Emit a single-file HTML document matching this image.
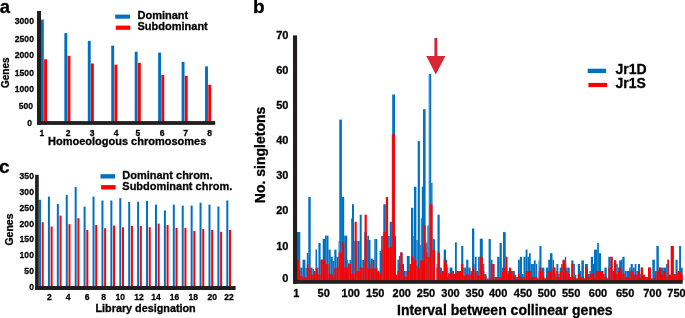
<!DOCTYPE html>
<html><head><meta charset="utf-8"><style>
html,body{margin:0;padding:0;background:#fff;}
svg{display:block;will-change:transform;}
text{font-family:"Liberation Sans",sans-serif;font-weight:bold;fill:#000;stroke:#000;stroke-width:0.3px;}
</style></head><body>
<svg width="685" height="318" viewBox="0 0 685 318" shape-rendering="auto">
<text x="-0.2" y="12.5" font-size="18.5" text-anchor="start" >a</text>
<rect x="40.90" y="19.60" width="2.90" height="103.40" fill="#0070c0"/>
<rect x="44.10" y="59.30" width="2.90" height="63.70" fill="#ff0000"/>
<rect x="64.35" y="33.10" width="2.90" height="89.90" fill="#0070c0"/>
<rect x="67.55" y="55.80" width="2.90" height="67.20" fill="#ff0000"/>
<rect x="87.80" y="40.90" width="2.90" height="82.10" fill="#0070c0"/>
<rect x="91.00" y="63.50" width="2.90" height="59.50" fill="#ff0000"/>
<rect x="111.25" y="45.60" width="2.90" height="77.40" fill="#0070c0"/>
<rect x="114.45" y="64.70" width="2.90" height="58.30" fill="#ff0000"/>
<rect x="134.70" y="51.70" width="2.90" height="71.30" fill="#0070c0"/>
<rect x="137.90" y="62.80" width="2.90" height="60.20" fill="#ff0000"/>
<rect x="158.15" y="52.60" width="2.90" height="70.40" fill="#0070c0"/>
<rect x="161.35" y="74.90" width="2.90" height="48.10" fill="#ff0000"/>
<rect x="181.60" y="61.90" width="2.90" height="61.10" fill="#0070c0"/>
<rect x="184.80" y="75.80" width="2.90" height="47.20" fill="#ff0000"/>
<rect x="205.05" y="66.40" width="2.90" height="56.60" fill="#0070c0"/>
<rect x="208.25" y="84.70" width="2.90" height="38.30" fill="#ff0000"/>
<rect x="37.00" y="11.00" width="4.00" height="113.80" fill="#231f20"/>
<rect x="37.00" y="121.10" width="178.20" height="3.80" fill="#231f20"/>
<text transform="translate(33.9 24.4) scale(0.875 1)" font-size="9.8" text-anchor="end">3000</text>
<text transform="translate(33.9 41.6) scale(0.875 1)" font-size="9.8" text-anchor="end">2500</text>
<text transform="translate(33.9 57.8) scale(0.875 1)" font-size="9.8" text-anchor="end">2000</text>
<text transform="translate(33.9 75.5) scale(0.875 1)" font-size="9.8" text-anchor="end">1500</text>
<text transform="translate(33.9 91.9) scale(0.875 1)" font-size="9.8" text-anchor="end">1000</text>
<text transform="translate(33.0 109.0) scale(0.875 1)" font-size="9.8" text-anchor="end">500</text>
<text transform="translate(32.0 125.8) scale(0.875 1)" font-size="9.8" text-anchor="end">0</text>
<text transform="translate(41.9 136.3) scale(0.9 1)" font-size="9.5" text-anchor="middle">1</text>
<text transform="translate(68.2 136.3) scale(0.9 1)" font-size="9.5" text-anchor="middle">2</text>
<text transform="translate(92.1 136.3) scale(0.9 1)" font-size="9.5" text-anchor="middle">3</text>
<text transform="translate(116.2 136.3) scale(0.9 1)" font-size="9.5" text-anchor="middle">4</text>
<text transform="translate(137.8 136.3) scale(0.9 1)" font-size="9.5" text-anchor="middle">5</text>
<text transform="translate(162.1 136.3) scale(0.9 1)" font-size="9.5" text-anchor="middle">6</text>
<text transform="translate(185.5 136.3) scale(0.9 1)" font-size="9.5" text-anchor="middle">7</text>
<text transform="translate(209.6 136.3) scale(0.9 1)" font-size="9.5" text-anchor="middle">8</text>
<text x="48" y="145" font-size="11" text-anchor="start" >Homoeologous chromosomes</text>
<text x="9.0" y="72.7" font-size="10" text-anchor="middle" transform="rotate(-90 9.0 72.7)">Genes</text>
<rect x="115.20" y="14.60" width="14.80" height="4.10" fill="#0070c0"/>
<rect x="115.80" y="25.60" width="14.50" height="4.20" fill="#ff0000"/>
<text x="137.5" y="19" font-size="11" text-anchor="start" >Dominant</text>
<text x="137.5" y="29.7" font-size="11" text-anchor="start" >Subdominant</text>
<text x="-1" y="172.8" font-size="19" text-anchor="start" >c</text>
<rect x="38.75" y="199.80" width="2.25" height="87.20" fill="#0070c0"/>
<rect x="41.70" y="222.20" width="2.00" height="64.80" fill="#ff0000"/>
<rect x="47.92" y="196.60" width="2.00" height="90.40" fill="#0070c0"/>
<rect x="50.62" y="226.50" width="2.00" height="60.50" fill="#ff0000"/>
<rect x="56.84" y="203.90" width="2.00" height="83.10" fill="#0070c0"/>
<rect x="59.54" y="215.60" width="2.00" height="71.40" fill="#ff0000"/>
<rect x="65.76" y="194.90" width="2.00" height="92.10" fill="#0070c0"/>
<rect x="68.46" y="224.10" width="2.00" height="62.90" fill="#ff0000"/>
<rect x="74.68" y="186.90" width="2.00" height="100.10" fill="#0070c0"/>
<rect x="77.38" y="218.20" width="2.00" height="68.80" fill="#ff0000"/>
<rect x="83.60" y="206.60" width="2.00" height="80.40" fill="#0070c0"/>
<rect x="86.30" y="229.90" width="2.00" height="57.10" fill="#ff0000"/>
<rect x="92.52" y="196.60" width="2.00" height="90.40" fill="#0070c0"/>
<rect x="95.22" y="225.00" width="2.00" height="62.00" fill="#ff0000"/>
<rect x="101.44" y="200.50" width="2.00" height="86.50" fill="#0070c0"/>
<rect x="104.14" y="228.20" width="2.00" height="58.80" fill="#ff0000"/>
<rect x="110.36" y="200.50" width="2.00" height="86.50" fill="#0070c0"/>
<rect x="113.06" y="225.60" width="2.00" height="61.40" fill="#ff0000"/>
<rect x="119.28" y="198.10" width="2.00" height="88.90" fill="#0070c0"/>
<rect x="121.98" y="227.30" width="2.00" height="59.70" fill="#ff0000"/>
<rect x="128.20" y="201.90" width="2.00" height="85.10" fill="#0070c0"/>
<rect x="130.90" y="225.80" width="2.00" height="61.20" fill="#ff0000"/>
<rect x="137.12" y="201.70" width="2.00" height="85.30" fill="#0070c0"/>
<rect x="139.82" y="225.80" width="2.00" height="61.20" fill="#ff0000"/>
<rect x="146.04" y="200.90" width="2.00" height="86.10" fill="#0070c0"/>
<rect x="148.74" y="227.20" width="2.00" height="59.80" fill="#ff0000"/>
<rect x="154.96" y="204.60" width="2.00" height="82.40" fill="#0070c0"/>
<rect x="157.66" y="223.60" width="2.00" height="63.40" fill="#ff0000"/>
<rect x="163.88" y="210.50" width="2.00" height="76.50" fill="#0070c0"/>
<rect x="166.58" y="225.00" width="2.00" height="62.00" fill="#ff0000"/>
<rect x="172.80" y="204.60" width="2.00" height="82.40" fill="#0070c0"/>
<rect x="175.50" y="227.90" width="2.00" height="59.10" fill="#ff0000"/>
<rect x="181.72" y="205.60" width="2.00" height="81.40" fill="#0070c0"/>
<rect x="184.42" y="227.90" width="2.00" height="59.10" fill="#ff0000"/>
<rect x="190.64" y="205.60" width="2.00" height="81.40" fill="#0070c0"/>
<rect x="193.34" y="230.90" width="2.00" height="56.10" fill="#ff0000"/>
<rect x="199.56" y="202.70" width="2.00" height="84.30" fill="#0070c0"/>
<rect x="202.26" y="229.10" width="2.00" height="57.90" fill="#ff0000"/>
<rect x="208.48" y="204.60" width="2.00" height="82.40" fill="#0070c0"/>
<rect x="211.18" y="229.90" width="2.00" height="57.10" fill="#ff0000"/>
<rect x="217.40" y="206.50" width="2.00" height="80.50" fill="#0070c0"/>
<rect x="220.10" y="231.80" width="2.00" height="55.20" fill="#ff0000"/>
<rect x="226.32" y="200.50" width="2.00" height="86.50" fill="#0070c0"/>
<rect x="229.02" y="229.90" width="2.00" height="57.10" fill="#ff0000"/>
<rect x="35.10" y="174.80" width="3.65" height="114.90" fill="#231f20"/>
<rect x="35.10" y="286.00" width="200.50" height="4.00" fill="#231f20"/>
<text transform="translate(33.9 179.3) scale(0.875 1)" font-size="9.8" text-anchor="end">350</text>
<text transform="translate(33.9 195.09) scale(0.875 1)" font-size="9.8" text-anchor="end">300</text>
<text transform="translate(33.9 210.88) scale(0.875 1)" font-size="9.8" text-anchor="end">250</text>
<text transform="translate(33.9 226.67000000000002) scale(0.875 1)" font-size="9.8" text-anchor="end">200</text>
<text transform="translate(33.9 242.46) scale(0.875 1)" font-size="9.8" text-anchor="end">150</text>
<text transform="translate(33.9 258.25) scale(0.875 1)" font-size="9.8" text-anchor="end">100</text>
<text transform="translate(33.9 274.04) scale(0.875 1)" font-size="9.8" text-anchor="end">50</text>
<text transform="translate(33.9 289.83000000000004) scale(0.875 1)" font-size="9.8" text-anchor="end">0</text>
<text transform="translate(49.3 300.0) scale(0.9 1)" font-size="9.5" text-anchor="middle">2</text>
<text transform="translate(68.15 300.0) scale(0.9 1)" font-size="9.5" text-anchor="middle">4</text>
<text transform="translate(87.2 300.0) scale(0.9 1)" font-size="9.5" text-anchor="middle">6</text>
<text transform="translate(103.6 300.0) scale(0.9 1)" font-size="9.5" text-anchor="middle">8</text>
<text transform="translate(120.25 300.0) scale(0.9 1)" font-size="9.5" text-anchor="middle">10</text>
<text transform="translate(139.0 300.0) scale(0.9 1)" font-size="9.5" text-anchor="middle">12</text>
<text transform="translate(155.9 300.0) scale(0.9 1)" font-size="9.5" text-anchor="middle">14</text>
<text transform="translate(174.4 300.0) scale(0.9 1)" font-size="9.5" text-anchor="middle">16</text>
<text transform="translate(193.15 300.0) scale(0.9 1)" font-size="9.5" text-anchor="middle">18</text>
<text transform="translate(212.3 300.0) scale(0.9 1)" font-size="9.5" text-anchor="middle">20</text>
<text transform="translate(229.0 300.0) scale(0.9 1)" font-size="9.5" text-anchor="middle">22</text>
<text x="95.5" y="311.7" font-size="10.8" text-anchor="start" >Library designation</text>
<text x="13.3" y="229.5" font-size="10.5" text-anchor="middle" transform="rotate(-90 13.3 229.5)">Genes</text>
<rect x="100.50" y="174.20" width="14.50" height="4.30" fill="#0070c0"/>
<rect x="101.10" y="185.10" width="14.50" height="4.40" fill="#ff0000"/>
<text transform="translate(122.3 178.8) scale(0.948 1)" font-size="11.6" text-anchor="start">Dominant chrom.</text>
<text transform="translate(122.3 189.8) scale(0.948 1)" font-size="11.6" text-anchor="start">Subdominant chrom.</text>
<text x="253.1" y="13.2" font-size="19" text-anchor="start" >b</text>
<rect x="297.00" y="232.00" width="2.00" height="49.00" fill="#0070c0"/>
<rect x="299.00" y="232.00" width="1.30" height="49.00" fill="#0070c0"/>
<rect x="300.30" y="267.60" width="2.20" height="13.40" fill="#0070c0"/>
<rect x="302.50" y="259.70" width="1.50" height="21.30" fill="#0070c0"/>
<rect x="304.00" y="259.70" width="1.40" height="21.30" fill="#0070c0"/>
<rect x="305.40" y="268.00" width="1.40" height="13.00" fill="#0070c0"/>
<rect x="306.80" y="253.00" width="1.50" height="28.00" fill="#0070c0"/>
<rect x="308.30" y="197.00" width="2.40" height="84.00" fill="#0070c0"/>
<rect x="310.70" y="267.60" width="1.90" height="13.40" fill="#0070c0"/>
<rect x="312.60" y="269.00" width="1.40" height="12.00" fill="#0070c0"/>
<rect x="314.00" y="271.00" width="1.50" height="10.00" fill="#0070c0"/>
<rect x="315.50" y="249.60" width="1.50" height="31.40" fill="#0070c0"/>
<rect x="317.00" y="267.60" width="1.40" height="13.40" fill="#0070c0"/>
<rect x="318.40" y="243.00" width="2.20" height="38.00" fill="#0070c0"/>
<rect x="320.60" y="259.70" width="2.10" height="21.30" fill="#0070c0"/>
<rect x="322.70" y="239.00" width="2.30" height="42.00" fill="#0070c0"/>
<rect x="325.00" y="235.60" width="1.30" height="45.40" fill="#0070c0"/>
<rect x="326.30" y="235.60" width="2.20" height="45.40" fill="#0070c0"/>
<rect x="328.50" y="249.60" width="2.20" height="31.40" fill="#0070c0"/>
<rect x="330.70" y="256.80" width="2.10" height="24.20" fill="#0070c0"/>
<rect x="332.80" y="261.00" width="1.50" height="20.00" fill="#0070c0"/>
<rect x="334.30" y="249.60" width="2.20" height="31.40" fill="#0070c0"/>
<rect x="336.50" y="256.80" width="2.10" height="24.20" fill="#0070c0"/>
<rect x="338.60" y="241.00" width="0.70" height="40.00" fill="#0070c0"/>
<rect x="339.30" y="119.60" width="2.60" height="161.40" fill="#0070c0"/>
<rect x="341.90" y="197.00" width="2.30" height="84.00" fill="#0070c0"/>
<rect x="344.20" y="235.60" width="1.80" height="45.40" fill="#0070c0"/>
<rect x="346.00" y="235.60" width="1.20" height="45.40" fill="#0070c0"/>
<rect x="347.20" y="259.70" width="1.00" height="21.30" fill="#0070c0"/>
<rect x="348.20" y="263.30" width="1.40" height="17.70" fill="#0070c0"/>
<rect x="349.60" y="260.00" width="1.60" height="21.00" fill="#0070c0"/>
<rect x="351.20" y="218.30" width="0.80" height="62.70" fill="#0070c0"/>
<rect x="352.00" y="204.20" width="2.00" height="76.80" fill="#0070c0"/>
<rect x="354.00" y="241.00" width="0.60" height="40.00" fill="#0070c0"/>
<rect x="354.60" y="241.00" width="2.10" height="40.00" fill="#0070c0"/>
<rect x="356.70" y="241.00" width="0.90" height="40.00" fill="#0070c0"/>
<rect x="357.60" y="241.00" width="2.10" height="40.00" fill="#0070c0"/>
<rect x="359.70" y="214.70" width="2.00" height="66.30" fill="#0070c0"/>
<rect x="361.70" y="260.00" width="0.90" height="21.00" fill="#0070c0"/>
<rect x="362.60" y="260.00" width="1.40" height="21.00" fill="#0070c0"/>
<rect x="364.00" y="232.00" width="0.60" height="49.00" fill="#0070c0"/>
<rect x="364.60" y="232.00" width="2.20" height="49.00" fill="#0070c0"/>
<rect x="366.80" y="236.00" width="0.70" height="45.00" fill="#0070c0"/>
<rect x="367.50" y="235.60" width="1.50" height="45.40" fill="#0070c0"/>
<rect x="369.00" y="240.00" width="1.50" height="41.00" fill="#0070c0"/>
<rect x="370.50" y="258.60" width="2.30" height="22.40" fill="#0070c0"/>
<rect x="372.80" y="260.00" width="1.50" height="21.00" fill="#0070c0"/>
<rect x="374.30" y="239.00" width="1.50" height="42.00" fill="#0070c0"/>
<rect x="375.80" y="239.00" width="1.50" height="42.00" fill="#0070c0"/>
<rect x="377.30" y="270.70" width="2.30" height="10.30" fill="#0070c0"/>
<rect x="379.60" y="251.00" width="1.50" height="30.00" fill="#0070c0"/>
<rect x="381.10" y="236.00" width="1.50" height="45.00" fill="#0070c0"/>
<rect x="382.60" y="236.00" width="0.70" height="45.00" fill="#0070c0"/>
<rect x="383.30" y="204.20" width="2.50" height="76.80" fill="#0070c0"/>
<rect x="385.80" y="235.60" width="2.30" height="45.40" fill="#0070c0"/>
<rect x="388.10" y="236.00" width="1.60" height="45.00" fill="#0070c0"/>
<rect x="389.70" y="221.80" width="2.20" height="59.20" fill="#0070c0"/>
<rect x="391.90" y="134.20" width="0.30" height="146.80" fill="#0070c0"/>
<rect x="392.20" y="94.50" width="2.80" height="186.50" fill="#0070c0"/>
<rect x="395.00" y="235.60" width="1.00" height="45.40" fill="#0070c0"/>
<rect x="396.00" y="274.80" width="1.40" height="6.20" fill="#0070c0"/>
<rect x="397.40" y="259.70" width="1.50" height="21.30" fill="#0070c0"/>
<rect x="398.90" y="256.00" width="1.40" height="25.00" fill="#0070c0"/>
<rect x="400.30" y="252.50" width="2.20" height="28.50" fill="#0070c0"/>
<rect x="402.50" y="264.00" width="1.50" height="17.00" fill="#0070c0"/>
<rect x="404.00" y="271.00" width="1.40" height="10.00" fill="#0070c0"/>
<rect x="405.40" y="271.00" width="1.40" height="10.00" fill="#0070c0"/>
<rect x="406.80" y="256.00" width="2.90" height="25.00" fill="#0070c0"/>
<rect x="409.70" y="264.00" width="1.30" height="17.00" fill="#0070c0"/>
<rect x="411.00" y="207.80" width="2.30" height="73.20" fill="#0070c0"/>
<rect x="413.30" y="236.00" width="0.70" height="45.00" fill="#0070c0"/>
<rect x="414.00" y="186.70" width="2.40" height="94.30" fill="#0070c0"/>
<rect x="416.40" y="240.00" width="1.30" height="41.00" fill="#0070c0"/>
<rect x="417.70" y="141.10" width="2.20" height="139.90" fill="#0070c0"/>
<rect x="419.90" y="245.00" width="0.90" height="36.00" fill="#0070c0"/>
<rect x="420.80" y="218.30" width="1.00" height="62.70" fill="#0070c0"/>
<rect x="421.80" y="186.70" width="1.20" height="94.30" fill="#0070c0"/>
<rect x="423.00" y="109.20" width="1.00" height="171.80" fill="#0070c0"/>
<rect x="424.00" y="109.20" width="1.60" height="171.80" fill="#0070c0"/>
<rect x="425.60" y="244.00" width="0.70" height="37.00" fill="#0070c0"/>
<rect x="426.30" y="242.30" width="1.10" height="38.70" fill="#0070c0"/>
<rect x="427.40" y="225.40" width="1.30" height="55.60" fill="#0070c0"/>
<rect x="428.70" y="74.00" width="0.90" height="207.00" fill="#0070c0"/>
<rect x="429.60" y="74.00" width="1.60" height="207.00" fill="#0070c0"/>
<rect x="431.20" y="182.90" width="1.30" height="98.10" fill="#0070c0"/>
<rect x="432.50" y="239.00" width="1.40" height="42.00" fill="#0070c0"/>
<rect x="433.90" y="239.40" width="1.10" height="41.60" fill="#0070c0"/>
<rect x="435.00" y="280.00" width="1.50" height="1.00" fill="#0070c0"/>
<rect x="436.50" y="264.00" width="1.00" height="17.00" fill="#0070c0"/>
<rect x="437.50" y="214.70" width="2.20" height="66.30" fill="#0070c0"/>
<rect x="439.70" y="252.50" width="0.30" height="28.50" fill="#0070c0"/>
<rect x="440.00" y="267.60" width="2.00" height="13.40" fill="#0070c0"/>
<rect x="442.00" y="271.00" width="1.70" height="10.00" fill="#0070c0"/>
<rect x="443.70" y="249.60" width="2.30" height="31.40" fill="#0070c0"/>
<rect x="446.00" y="259.70" width="1.20" height="21.30" fill="#0070c0"/>
<rect x="447.20" y="267.60" width="1.00" height="13.40" fill="#0070c0"/>
<rect x="448.20" y="272.70" width="1.40" height="8.30" fill="#0070c0"/>
<rect x="449.60" y="267.60" width="1.40" height="13.40" fill="#0070c0"/>
<rect x="451.00" y="267.60" width="1.50" height="13.40" fill="#0070c0"/>
<rect x="452.50" y="271.00" width="1.50" height="10.00" fill="#0070c0"/>
<rect x="454.00" y="274.00" width="1.00" height="7.00" fill="#0070c0"/>
<rect x="455.00" y="242.30" width="1.80" height="38.70" fill="#0070c0"/>
<rect x="456.80" y="271.00" width="2.20" height="10.00" fill="#0070c0"/>
<rect x="459.00" y="271.00" width="2.20" height="10.00" fill="#0070c0"/>
<rect x="461.20" y="246.00" width="2.10" height="35.00" fill="#0070c0"/>
<rect x="463.30" y="267.60" width="1.50" height="13.40" fill="#0070c0"/>
<rect x="464.80" y="267.60" width="1.40" height="13.40" fill="#0070c0"/>
<rect x="466.20" y="259.70" width="2.20" height="21.30" fill="#0070c0"/>
<rect x="468.40" y="267.60" width="2.20" height="13.40" fill="#0070c0"/>
<rect x="470.60" y="271.00" width="1.40" height="10.00" fill="#0070c0"/>
<rect x="472.00" y="228.50" width="2.30" height="52.50" fill="#0070c0"/>
<rect x="474.30" y="264.00" width="0.60" height="17.00" fill="#0070c0"/>
<rect x="474.90" y="256.80" width="1.70" height="24.20" fill="#0070c0"/>
<rect x="476.60" y="271.00" width="1.50" height="10.00" fill="#0070c0"/>
<rect x="478.10" y="256.80" width="1.70" height="24.20" fill="#0070c0"/>
<rect x="479.80" y="238.70" width="3.00" height="42.30" fill="#0070c0"/>
<rect x="482.80" y="264.00" width="1.50" height="17.00" fill="#0070c0"/>
<rect x="484.30" y="274.00" width="2.20" height="7.00" fill="#0070c0"/>
<rect x="486.50" y="278.50" width="2.10" height="2.50" fill="#0070c0"/>
<rect x="488.60" y="239.00" width="2.20" height="42.00" fill="#0070c0"/>
<rect x="490.80" y="259.70" width="1.70" height="21.30" fill="#0070c0"/>
<rect x="492.50" y="264.00" width="1.90" height="17.00" fill="#0070c0"/>
<rect x="494.40" y="277.00" width="1.60" height="4.00" fill="#0070c0"/>
<rect x="496.00" y="277.00" width="1.20" height="4.00" fill="#0070c0"/>
<rect x="497.20" y="256.80" width="2.40" height="24.20" fill="#0070c0"/>
<rect x="499.60" y="243.00" width="2.20" height="38.00" fill="#0070c0"/>
<rect x="501.80" y="267.60" width="1.20" height="13.40" fill="#0070c0"/>
<rect x="503.00" y="232.10" width="2.70" height="48.90" fill="#0070c0"/>
<rect x="505.70" y="256.80" width="1.60" height="24.20" fill="#0070c0"/>
<rect x="507.30" y="271.00" width="1.70" height="10.00" fill="#0070c0"/>
<rect x="509.00" y="271.00" width="2.20" height="10.00" fill="#0070c0"/>
<rect x="511.20" y="271.00" width="1.40" height="10.00" fill="#0070c0"/>
<rect x="512.60" y="271.00" width="2.20" height="10.00" fill="#0070c0"/>
<rect x="514.80" y="274.80" width="1.40" height="6.20" fill="#0070c0"/>
<rect x="516.20" y="277.00" width="1.80" height="4.00" fill="#0070c0"/>
<rect x="518.00" y="259.70" width="1.80" height="21.30" fill="#0070c0"/>
<rect x="519.80" y="256.80" width="2.20" height="24.20" fill="#0070c0"/>
<rect x="522.00" y="274.00" width="1.50" height="7.00" fill="#0070c0"/>
<rect x="523.50" y="256.80" width="2.10" height="24.20" fill="#0070c0"/>
<rect x="525.60" y="249.60" width="1.90" height="31.40" fill="#0070c0"/>
<rect x="527.50" y="256.80" width="1.50" height="24.20" fill="#0070c0"/>
<rect x="529.00" y="253.20" width="1.70" height="27.80" fill="#0070c0"/>
<rect x="530.70" y="264.00" width="1.40" height="17.00" fill="#0070c0"/>
<rect x="532.10" y="264.00" width="1.80" height="17.00" fill="#0070c0"/>
<rect x="533.90" y="260.40" width="1.80" height="20.60" fill="#0070c0"/>
<rect x="535.70" y="264.00" width="1.50" height="17.00" fill="#0070c0"/>
<rect x="537.20" y="278.50" width="1.40" height="2.50" fill="#0070c0"/>
<rect x="538.60" y="260.40" width="0.80" height="20.60" fill="#0070c0"/>
<rect x="539.40" y="246.00" width="2.10" height="35.00" fill="#0070c0"/>
<rect x="541.50" y="267.60" width="1.50" height="13.40" fill="#0070c0"/>
<rect x="543.00" y="267.60" width="1.40" height="13.40" fill="#0070c0"/>
<rect x="544.40" y="278.50" width="1.60" height="2.50" fill="#0070c0"/>
<rect x="546.00" y="267.60" width="2.20" height="13.40" fill="#0070c0"/>
<rect x="548.20" y="259.70" width="1.80" height="21.30" fill="#0070c0"/>
<rect x="550.00" y="253.20" width="2.50" height="27.80" fill="#0070c0"/>
<rect x="552.50" y="259.70" width="1.50" height="21.30" fill="#0070c0"/>
<rect x="554.00" y="267.60" width="1.40" height="13.40" fill="#0070c0"/>
<rect x="555.40" y="274.00" width="1.00" height="7.00" fill="#0070c0"/>
<rect x="556.40" y="264.00" width="1.90" height="17.00" fill="#0070c0"/>
<rect x="558.30" y="274.00" width="1.40" height="7.00" fill="#0070c0"/>
<rect x="559.70" y="267.60" width="1.50" height="13.40" fill="#0070c0"/>
<rect x="561.20" y="267.60" width="1.40" height="13.40" fill="#0070c0"/>
<rect x="562.60" y="260.40" width="2.20" height="20.60" fill="#0070c0"/>
<rect x="564.80" y="256.80" width="1.40" height="24.20" fill="#0070c0"/>
<rect x="566.20" y="267.60" width="1.50" height="13.40" fill="#0070c0"/>
<rect x="567.70" y="267.60" width="2.10" height="13.40" fill="#0070c0"/>
<rect x="569.80" y="278.50" width="1.50" height="2.50" fill="#0070c0"/>
<rect x="571.30" y="260.40" width="2.20" height="20.60" fill="#0070c0"/>
<rect x="573.50" y="264.00" width="1.40" height="17.00" fill="#0070c0"/>
<rect x="574.90" y="274.80" width="1.40" height="6.20" fill="#0070c0"/>
<rect x="576.30" y="278.50" width="1.50" height="2.50" fill="#0070c0"/>
<rect x="577.80" y="264.00" width="2.20" height="17.00" fill="#0070c0"/>
<rect x="580.00" y="271.00" width="1.40" height="10.00" fill="#0070c0"/>
<rect x="581.40" y="260.40" width="2.50" height="20.60" fill="#0070c0"/>
<rect x="583.90" y="278.50" width="1.10" height="2.50" fill="#0070c0"/>
<rect x="585.00" y="264.00" width="2.90" height="17.00" fill="#0070c0"/>
<rect x="587.90" y="274.00" width="1.50" height="7.00" fill="#0070c0"/>
<rect x="589.40" y="271.00" width="1.40" height="10.00" fill="#0070c0"/>
<rect x="590.80" y="256.80" width="2.20" height="24.20" fill="#0070c0"/>
<rect x="593.00" y="264.00" width="1.00" height="17.00" fill="#0070c0"/>
<rect x="594.00" y="249.60" width="2.00" height="31.40" fill="#0070c0"/>
<rect x="596.00" y="249.60" width="1.20" height="31.40" fill="#0070c0"/>
<rect x="597.20" y="243.00" width="1.70" height="38.00" fill="#0070c0"/>
<rect x="598.90" y="253.20" width="2.10" height="27.80" fill="#0070c0"/>
<rect x="601.00" y="271.00" width="2.20" height="10.00" fill="#0070c0"/>
<rect x="603.20" y="274.00" width="1.20" height="7.00" fill="#0070c0"/>
<rect x="604.40" y="267.60" width="2.40" height="13.40" fill="#0070c0"/>
<rect x="606.80" y="278.50" width="1.50" height="2.50" fill="#0070c0"/>
<rect x="608.30" y="256.80" width="2.20" height="24.20" fill="#0070c0"/>
<rect x="610.50" y="256.80" width="2.10" height="24.20" fill="#0070c0"/>
<rect x="612.60" y="271.00" width="1.40" height="10.00" fill="#0070c0"/>
<rect x="614.00" y="260.40" width="2.20" height="20.60" fill="#0070c0"/>
<rect x="616.20" y="264.00" width="1.50" height="17.00" fill="#0070c0"/>
<rect x="617.70" y="267.60" width="1.40" height="13.40" fill="#0070c0"/>
<rect x="619.10" y="260.40" width="1.80" height="20.60" fill="#0070c0"/>
<rect x="620.90" y="259.70" width="1.40" height="21.30" fill="#0070c0"/>
<rect x="622.30" y="256.80" width="2.30" height="24.20" fill="#0070c0"/>
<rect x="624.60" y="271.00" width="1.70" height="10.00" fill="#0070c0"/>
<rect x="626.30" y="271.00" width="2.90" height="10.00" fill="#0070c0"/>
<rect x="629.20" y="267.60" width="1.50" height="13.40" fill="#0070c0"/>
<rect x="630.70" y="264.00" width="2.10" height="17.00" fill="#0070c0"/>
<rect x="632.80" y="267.60" width="1.90" height="13.40" fill="#0070c0"/>
<rect x="634.70" y="264.00" width="1.70" height="17.00" fill="#0070c0"/>
<rect x="636.40" y="271.00" width="1.50" height="10.00" fill="#0070c0"/>
<rect x="637.90" y="264.00" width="2.10" height="17.00" fill="#0070c0"/>
<rect x="640.00" y="274.00" width="0.80" height="7.00" fill="#0070c0"/>
<rect x="640.80" y="267.60" width="2.20" height="13.40" fill="#0070c0"/>
<rect x="643.00" y="274.80" width="2.10" height="6.20" fill="#0070c0"/>
<rect x="645.10" y="278.50" width="1.80" height="2.50" fill="#0070c0"/>
<rect x="646.90" y="277.00" width="1.10" height="4.00" fill="#0070c0"/>
<rect x="648.00" y="267.60" width="2.90" height="13.40" fill="#0070c0"/>
<rect x="650.90" y="278.50" width="1.40" height="2.50" fill="#0070c0"/>
<rect x="652.30" y="259.70" width="2.60" height="21.30" fill="#0070c0"/>
<rect x="654.90" y="271.00" width="1.50" height="10.00" fill="#0070c0"/>
<rect x="656.40" y="246.00" width="2.40" height="35.00" fill="#0070c0"/>
<rect x="658.80" y="267.60" width="2.20" height="13.40" fill="#0070c0"/>
<rect x="661.00" y="267.60" width="2.20" height="13.40" fill="#0070c0"/>
<rect x="663.20" y="267.60" width="2.90" height="13.40" fill="#0070c0"/>
<rect x="666.10" y="264.00" width="1.40" height="17.00" fill="#0070c0"/>
<rect x="667.50" y="259.70" width="1.50" height="21.30" fill="#0070c0"/>
<rect x="669.00" y="274.80" width="1.80" height="6.20" fill="#0070c0"/>
<rect x="670.80" y="246.00" width="2.90" height="35.00" fill="#0070c0"/>
<rect x="673.70" y="274.00" width="1.80" height="7.00" fill="#0070c0"/>
<rect x="675.50" y="259.70" width="2.10" height="21.30" fill="#0070c0"/>
<rect x="677.60" y="271.00" width="1.50" height="10.00" fill="#0070c0"/>
<rect x="679.10" y="246.00" width="1.90" height="35.00" fill="#0070c0"/>
<rect x="681.00" y="267.60" width="1.70" height="13.40" fill="#0070c0"/>
<rect x="297.00" y="259.70" width="2.00" height="21.30" fill="#ff0000"/>
<rect x="299.00" y="270.50" width="1.30" height="10.50" fill="#ff0000"/>
<rect x="300.30" y="276.00" width="2.20" height="5.00" fill="#ff0000"/>
<rect x="302.50" y="277.70" width="1.50" height="3.30" fill="#ff0000"/>
<rect x="304.00" y="277.00" width="1.40" height="4.00" fill="#ff0000"/>
<rect x="305.40" y="277.70" width="1.40" height="3.30" fill="#ff0000"/>
<rect x="306.80" y="264.00" width="1.50" height="17.00" fill="#ff0000"/>
<rect x="308.30" y="268.00" width="2.40" height="13.00" fill="#ff0000"/>
<rect x="310.70" y="274.80" width="1.90" height="6.20" fill="#ff0000"/>
<rect x="312.60" y="274.80" width="1.40" height="6.20" fill="#ff0000"/>
<rect x="314.00" y="272.70" width="1.50" height="8.30" fill="#ff0000"/>
<rect x="315.50" y="268.30" width="1.50" height="12.70" fill="#ff0000"/>
<rect x="317.00" y="274.00" width="1.40" height="7.00" fill="#ff0000"/>
<rect x="318.40" y="274.80" width="2.20" height="6.20" fill="#ff0000"/>
<rect x="320.60" y="259.70" width="2.10" height="21.30" fill="#ff0000"/>
<rect x="322.70" y="259.70" width="2.30" height="21.30" fill="#ff0000"/>
<rect x="325.00" y="264.00" width="1.30" height="17.00" fill="#ff0000"/>
<rect x="326.30" y="264.00" width="2.20" height="17.00" fill="#ff0000"/>
<rect x="328.50" y="274.00" width="2.20" height="7.00" fill="#ff0000"/>
<rect x="330.70" y="274.80" width="2.10" height="6.20" fill="#ff0000"/>
<rect x="332.80" y="277.00" width="1.50" height="4.00" fill="#ff0000"/>
<rect x="334.30" y="268.30" width="2.20" height="12.70" fill="#ff0000"/>
<rect x="336.50" y="267.60" width="2.10" height="13.40" fill="#ff0000"/>
<rect x="338.60" y="252.50" width="0.70" height="28.50" fill="#ff0000"/>
<rect x="339.30" y="252.50" width="2.60" height="28.50" fill="#ff0000"/>
<rect x="341.90" y="242.30" width="2.30" height="38.70" fill="#ff0000"/>
<rect x="344.20" y="267.70" width="1.80" height="13.30" fill="#ff0000"/>
<rect x="346.00" y="267.60" width="1.20" height="13.40" fill="#ff0000"/>
<rect x="347.20" y="267.60" width="1.00" height="13.40" fill="#ff0000"/>
<rect x="348.20" y="264.00" width="1.40" height="17.00" fill="#ff0000"/>
<rect x="349.60" y="264.00" width="1.60" height="17.00" fill="#ff0000"/>
<rect x="351.20" y="274.00" width="0.80" height="7.00" fill="#ff0000"/>
<rect x="352.00" y="274.00" width="2.00" height="7.00" fill="#ff0000"/>
<rect x="354.00" y="274.00" width="0.60" height="7.00" fill="#ff0000"/>
<rect x="354.60" y="221.80" width="2.10" height="59.20" fill="#ff0000"/>
<rect x="356.70" y="271.00" width="0.90" height="10.00" fill="#ff0000"/>
<rect x="357.60" y="271.00" width="2.10" height="10.00" fill="#ff0000"/>
<rect x="359.70" y="267.00" width="2.00" height="14.00" fill="#ff0000"/>
<rect x="361.70" y="268.00" width="0.90" height="13.00" fill="#ff0000"/>
<rect x="362.60" y="268.00" width="1.40" height="13.00" fill="#ff0000"/>
<rect x="364.00" y="261.80" width="0.60" height="19.20" fill="#ff0000"/>
<rect x="364.60" y="214.70" width="2.20" height="66.30" fill="#ff0000"/>
<rect x="366.80" y="240.00" width="0.70" height="41.00" fill="#ff0000"/>
<rect x="367.50" y="268.50" width="1.50" height="12.50" fill="#ff0000"/>
<rect x="369.00" y="264.00" width="1.50" height="17.00" fill="#ff0000"/>
<rect x="370.50" y="268.50" width="2.30" height="12.50" fill="#ff0000"/>
<rect x="372.80" y="260.00" width="1.50" height="21.00" fill="#ff0000"/>
<rect x="374.30" y="268.50" width="1.50" height="12.50" fill="#ff0000"/>
<rect x="375.80" y="267.70" width="1.50" height="13.30" fill="#ff0000"/>
<rect x="377.30" y="272.00" width="2.30" height="9.00" fill="#ff0000"/>
<rect x="379.60" y="273.70" width="1.50" height="7.30" fill="#ff0000"/>
<rect x="381.10" y="249.60" width="1.50" height="31.40" fill="#ff0000"/>
<rect x="382.60" y="236.00" width="0.70" height="45.00" fill="#ff0000"/>
<rect x="383.30" y="232.10" width="2.50" height="48.90" fill="#ff0000"/>
<rect x="385.80" y="197.10" width="2.30" height="83.90" fill="#ff0000"/>
<rect x="388.10" y="248.00" width="1.60" height="33.00" fill="#ff0000"/>
<rect x="389.70" y="246.70" width="2.20" height="34.30" fill="#ff0000"/>
<rect x="391.90" y="134.20" width="0.30" height="146.80" fill="#ff0000"/>
<rect x="392.20" y="134.20" width="2.80" height="146.80" fill="#ff0000"/>
<rect x="395.00" y="238.00" width="1.00" height="43.00" fill="#ff0000"/>
<rect x="396.00" y="274.80" width="1.40" height="6.20" fill="#ff0000"/>
<rect x="397.40" y="271.00" width="1.50" height="10.00" fill="#ff0000"/>
<rect x="398.90" y="264.00" width="1.40" height="17.00" fill="#ff0000"/>
<rect x="400.30" y="252.50" width="2.20" height="28.50" fill="#ff0000"/>
<rect x="402.50" y="264.00" width="1.50" height="17.00" fill="#ff0000"/>
<rect x="404.00" y="275.60" width="1.40" height="5.40" fill="#ff0000"/>
<rect x="405.40" y="277.00" width="1.40" height="4.00" fill="#ff0000"/>
<rect x="406.80" y="271.00" width="2.90" height="10.00" fill="#ff0000"/>
<rect x="409.70" y="264.00" width="1.30" height="17.00" fill="#ff0000"/>
<rect x="411.00" y="256.00" width="2.30" height="25.00" fill="#ff0000"/>
<rect x="413.30" y="258.00" width="0.70" height="23.00" fill="#ff0000"/>
<rect x="414.00" y="260.00" width="2.40" height="21.00" fill="#ff0000"/>
<rect x="416.40" y="266.00" width="1.30" height="15.00" fill="#ff0000"/>
<rect x="417.70" y="268.30" width="2.20" height="12.70" fill="#ff0000"/>
<rect x="419.90" y="260.40" width="0.90" height="20.60" fill="#ff0000"/>
<rect x="420.80" y="260.40" width="1.00" height="20.60" fill="#ff0000"/>
<rect x="421.80" y="260.40" width="1.20" height="20.60" fill="#ff0000"/>
<rect x="423.00" y="260.40" width="1.00" height="20.60" fill="#ff0000"/>
<rect x="424.00" y="225.40" width="1.60" height="55.60" fill="#ff0000"/>
<rect x="425.60" y="244.00" width="0.70" height="37.00" fill="#ff0000"/>
<rect x="426.30" y="252.50" width="1.10" height="28.50" fill="#ff0000"/>
<rect x="427.40" y="256.80" width="1.30" height="24.20" fill="#ff0000"/>
<rect x="428.70" y="256.80" width="0.90" height="24.20" fill="#ff0000"/>
<rect x="429.60" y="204.20" width="1.60" height="76.80" fill="#ff0000"/>
<rect x="431.20" y="204.20" width="1.30" height="76.80" fill="#ff0000"/>
<rect x="432.50" y="249.60" width="1.40" height="31.40" fill="#ff0000"/>
<rect x="433.90" y="249.60" width="1.10" height="31.40" fill="#ff0000"/>
<rect x="435.00" y="280.00" width="1.50" height="1.00" fill="#ff0000"/>
<rect x="436.50" y="267.60" width="1.00" height="13.40" fill="#ff0000"/>
<rect x="437.50" y="252.50" width="2.20" height="28.50" fill="#ff0000"/>
<rect x="439.70" y="252.50" width="0.30" height="28.50" fill="#ff0000"/>
<rect x="440.00" y="274.00" width="2.00" height="7.00" fill="#ff0000"/>
<rect x="442.00" y="271.00" width="1.70" height="10.00" fill="#ff0000"/>
<rect x="443.70" y="259.70" width="2.30" height="21.30" fill="#ff0000"/>
<rect x="446.00" y="264.00" width="1.20" height="17.00" fill="#ff0000"/>
<rect x="447.20" y="277.00" width="1.00" height="4.00" fill="#ff0000"/>
<rect x="448.20" y="274.00" width="1.40" height="7.00" fill="#ff0000"/>
<rect x="449.60" y="274.00" width="1.40" height="7.00" fill="#ff0000"/>
<rect x="451.00" y="271.00" width="1.50" height="10.00" fill="#ff0000"/>
<rect x="452.50" y="271.00" width="1.50" height="10.00" fill="#ff0000"/>
<rect x="454.00" y="274.00" width="1.00" height="7.00" fill="#ff0000"/>
<rect x="455.00" y="272.70" width="1.80" height="8.30" fill="#ff0000"/>
<rect x="456.80" y="271.00" width="2.20" height="10.00" fill="#ff0000"/>
<rect x="459.00" y="271.00" width="2.20" height="10.00" fill="#ff0000"/>
<rect x="461.20" y="264.00" width="2.10" height="17.00" fill="#ff0000"/>
<rect x="463.30" y="275.60" width="1.50" height="5.40" fill="#ff0000"/>
<rect x="464.80" y="275.60" width="1.40" height="5.40" fill="#ff0000"/>
<rect x="466.20" y="274.00" width="2.20" height="7.00" fill="#ff0000"/>
<rect x="468.40" y="275.60" width="2.20" height="5.40" fill="#ff0000"/>
<rect x="470.60" y="274.00" width="1.40" height="7.00" fill="#ff0000"/>
<rect x="472.00" y="267.60" width="2.30" height="13.40" fill="#ff0000"/>
<rect x="474.30" y="272.70" width="0.60" height="8.30" fill="#ff0000"/>
<rect x="474.90" y="271.00" width="1.70" height="10.00" fill="#ff0000"/>
<rect x="476.60" y="275.60" width="1.50" height="5.40" fill="#ff0000"/>
<rect x="478.10" y="275.60" width="1.70" height="5.40" fill="#ff0000"/>
<rect x="479.80" y="256.80" width="3.00" height="24.20" fill="#ff0000"/>
<rect x="482.80" y="271.00" width="1.50" height="10.00" fill="#ff0000"/>
<rect x="484.30" y="275.60" width="2.20" height="5.40" fill="#ff0000"/>
<rect x="486.50" y="280.00" width="2.10" height="1.00" fill="#ff0000"/>
<rect x="488.60" y="278.50" width="2.20" height="2.50" fill="#ff0000"/>
<rect x="490.80" y="264.00" width="1.70" height="17.00" fill="#ff0000"/>
<rect x="492.50" y="264.00" width="1.90" height="17.00" fill="#ff0000"/>
<rect x="494.40" y="278.50" width="1.60" height="2.50" fill="#ff0000"/>
<rect x="496.00" y="278.50" width="1.20" height="2.50" fill="#ff0000"/>
<rect x="497.20" y="277.00" width="2.40" height="4.00" fill="#ff0000"/>
<rect x="499.60" y="277.00" width="2.20" height="4.00" fill="#ff0000"/>
<rect x="501.80" y="271.00" width="1.20" height="10.00" fill="#ff0000"/>
<rect x="503.00" y="267.60" width="2.70" height="13.40" fill="#ff0000"/>
<rect x="505.70" y="256.80" width="1.60" height="24.20" fill="#ff0000"/>
<rect x="507.30" y="274.00" width="1.70" height="7.00" fill="#ff0000"/>
<rect x="509.00" y="267.60" width="2.20" height="13.40" fill="#ff0000"/>
<rect x="511.20" y="271.00" width="1.40" height="10.00" fill="#ff0000"/>
<rect x="512.60" y="274.80" width="2.20" height="6.20" fill="#ff0000"/>
<rect x="514.80" y="277.00" width="1.40" height="4.00" fill="#ff0000"/>
<rect x="516.20" y="279.00" width="1.80" height="2.00" fill="#ff0000"/>
<rect x="518.00" y="274.00" width="1.80" height="7.00" fill="#ff0000"/>
<rect x="519.80" y="277.00" width="2.20" height="4.00" fill="#ff0000"/>
<rect x="522.00" y="278.50" width="1.50" height="2.50" fill="#ff0000"/>
<rect x="523.50" y="277.00" width="2.10" height="4.00" fill="#ff0000"/>
<rect x="525.60" y="271.00" width="1.90" height="10.00" fill="#ff0000"/>
<rect x="527.50" y="271.00" width="1.50" height="10.00" fill="#ff0000"/>
<rect x="529.00" y="271.00" width="1.70" height="10.00" fill="#ff0000"/>
<rect x="530.70" y="277.00" width="1.40" height="4.00" fill="#ff0000"/>
<rect x="532.10" y="277.00" width="1.80" height="4.00" fill="#ff0000"/>
<rect x="533.90" y="277.00" width="1.80" height="4.00" fill="#ff0000"/>
<rect x="535.70" y="277.00" width="1.50" height="4.00" fill="#ff0000"/>
<rect x="537.20" y="278.50" width="1.40" height="2.50" fill="#ff0000"/>
<rect x="538.60" y="271.00" width="0.80" height="10.00" fill="#ff0000"/>
<rect x="539.40" y="267.60" width="2.10" height="13.40" fill="#ff0000"/>
<rect x="541.50" y="271.00" width="1.50" height="10.00" fill="#ff0000"/>
<rect x="543.00" y="277.00" width="1.40" height="4.00" fill="#ff0000"/>
<rect x="544.40" y="278.50" width="1.60" height="2.50" fill="#ff0000"/>
<rect x="546.00" y="277.00" width="2.20" height="4.00" fill="#ff0000"/>
<rect x="548.20" y="271.00" width="1.80" height="10.00" fill="#ff0000"/>
<rect x="550.00" y="271.00" width="2.50" height="10.00" fill="#ff0000"/>
<rect x="552.50" y="267.60" width="1.50" height="13.40" fill="#ff0000"/>
<rect x="554.00" y="267.60" width="1.40" height="13.40" fill="#ff0000"/>
<rect x="555.40" y="277.00" width="1.00" height="4.00" fill="#ff0000"/>
<rect x="556.40" y="271.00" width="1.90" height="10.00" fill="#ff0000"/>
<rect x="558.30" y="277.00" width="1.40" height="4.00" fill="#ff0000"/>
<rect x="559.70" y="271.00" width="1.50" height="10.00" fill="#ff0000"/>
<rect x="561.20" y="264.00" width="1.40" height="17.00" fill="#ff0000"/>
<rect x="562.60" y="259.70" width="2.20" height="21.30" fill="#ff0000"/>
<rect x="564.80" y="264.00" width="1.40" height="17.00" fill="#ff0000"/>
<rect x="566.20" y="271.00" width="1.50" height="10.00" fill="#ff0000"/>
<rect x="567.70" y="274.00" width="2.10" height="7.00" fill="#ff0000"/>
<rect x="569.80" y="277.00" width="1.50" height="4.00" fill="#ff0000"/>
<rect x="571.30" y="264.00" width="2.20" height="17.00" fill="#ff0000"/>
<rect x="573.50" y="277.00" width="1.40" height="4.00" fill="#ff0000"/>
<rect x="574.90" y="278.50" width="1.40" height="2.50" fill="#ff0000"/>
<rect x="576.30" y="278.50" width="1.50" height="2.50" fill="#ff0000"/>
<rect x="577.80" y="274.00" width="2.20" height="7.00" fill="#ff0000"/>
<rect x="580.00" y="277.00" width="1.40" height="4.00" fill="#ff0000"/>
<rect x="581.40" y="277.00" width="2.50" height="4.00" fill="#ff0000"/>
<rect x="583.90" y="278.50" width="1.10" height="2.50" fill="#ff0000"/>
<rect x="585.00" y="267.60" width="2.90" height="13.40" fill="#ff0000"/>
<rect x="587.90" y="277.00" width="1.50" height="4.00" fill="#ff0000"/>
<rect x="589.40" y="274.00" width="1.40" height="7.00" fill="#ff0000"/>
<rect x="590.80" y="274.00" width="2.20" height="7.00" fill="#ff0000"/>
<rect x="593.00" y="264.00" width="1.00" height="17.00" fill="#ff0000"/>
<rect x="594.00" y="278.00" width="2.00" height="3.00" fill="#ff0000"/>
<rect x="596.00" y="271.00" width="1.20" height="10.00" fill="#ff0000"/>
<rect x="597.20" y="271.00" width="1.70" height="10.00" fill="#ff0000"/>
<rect x="598.90" y="271.00" width="2.10" height="10.00" fill="#ff0000"/>
<rect x="601.00" y="271.00" width="2.20" height="10.00" fill="#ff0000"/>
<rect x="603.20" y="274.00" width="1.20" height="7.00" fill="#ff0000"/>
<rect x="604.40" y="277.00" width="2.40" height="4.00" fill="#ff0000"/>
<rect x="606.80" y="278.50" width="1.50" height="2.50" fill="#ff0000"/>
<rect x="608.30" y="267.60" width="2.20" height="13.40" fill="#ff0000"/>
<rect x="610.50" y="256.80" width="2.10" height="24.20" fill="#ff0000"/>
<rect x="612.60" y="271.00" width="1.40" height="10.00" fill="#ff0000"/>
<rect x="614.00" y="260.40" width="2.20" height="20.60" fill="#ff0000"/>
<rect x="616.20" y="274.00" width="1.50" height="7.00" fill="#ff0000"/>
<rect x="617.70" y="271.00" width="1.40" height="10.00" fill="#ff0000"/>
<rect x="619.10" y="267.60" width="1.80" height="13.40" fill="#ff0000"/>
<rect x="620.90" y="271.00" width="1.40" height="10.00" fill="#ff0000"/>
<rect x="622.30" y="274.00" width="2.30" height="7.00" fill="#ff0000"/>
<rect x="624.60" y="277.00" width="1.70" height="4.00" fill="#ff0000"/>
<rect x="626.30" y="277.00" width="2.90" height="4.00" fill="#ff0000"/>
<rect x="629.20" y="271.00" width="1.50" height="10.00" fill="#ff0000"/>
<rect x="630.70" y="271.00" width="2.10" height="10.00" fill="#ff0000"/>
<rect x="632.80" y="274.80" width="1.90" height="6.20" fill="#ff0000"/>
<rect x="634.70" y="274.80" width="1.70" height="6.20" fill="#ff0000"/>
<rect x="636.40" y="274.80" width="1.50" height="6.20" fill="#ff0000"/>
<rect x="637.90" y="271.00" width="2.10" height="10.00" fill="#ff0000"/>
<rect x="640.00" y="277.00" width="0.80" height="4.00" fill="#ff0000"/>
<rect x="640.80" y="267.60" width="2.20" height="13.40" fill="#ff0000"/>
<rect x="643.00" y="274.80" width="2.10" height="6.20" fill="#ff0000"/>
<rect x="645.10" y="277.00" width="1.80" height="4.00" fill="#ff0000"/>
<rect x="646.90" y="278.50" width="1.10" height="2.50" fill="#ff0000"/>
<rect x="648.00" y="267.60" width="2.90" height="13.40" fill="#ff0000"/>
<rect x="650.90" y="278.50" width="1.40" height="2.50" fill="#ff0000"/>
<rect x="652.30" y="278.50" width="2.60" height="2.50" fill="#ff0000"/>
<rect x="654.90" y="274.80" width="1.50" height="6.20" fill="#ff0000"/>
<rect x="656.40" y="271.00" width="2.40" height="10.00" fill="#ff0000"/>
<rect x="658.80" y="267.60" width="2.20" height="13.40" fill="#ff0000"/>
<rect x="661.00" y="274.80" width="2.20" height="6.20" fill="#ff0000"/>
<rect x="663.20" y="271.00" width="2.90" height="10.00" fill="#ff0000"/>
<rect x="666.10" y="277.00" width="1.40" height="4.00" fill="#ff0000"/>
<rect x="667.50" y="259.70" width="1.50" height="21.30" fill="#ff0000"/>
<rect x="669.00" y="274.80" width="1.80" height="6.20" fill="#ff0000"/>
<rect x="670.80" y="246.00" width="2.90" height="35.00" fill="#ff0000"/>
<rect x="673.70" y="274.80" width="1.80" height="6.20" fill="#ff0000"/>
<rect x="675.50" y="274.00" width="2.10" height="7.00" fill="#ff0000"/>
<rect x="677.60" y="271.00" width="1.50" height="10.00" fill="#ff0000"/>
<rect x="679.10" y="271.00" width="1.90" height="10.00" fill="#ff0000"/>
<rect x="681.00" y="274.80" width="1.70" height="6.20" fill="#ff0000"/>
<rect x="293.00" y="35.40" width="4.10" height="248.40" fill="#231f20"/>
<rect x="293.00" y="280.10" width="389.70" height="3.70" fill="#231f20"/>
<text x="288.4" y="38.9" font-size="11" text-anchor="end" >70</text>
<text x="288.4" y="74.1" font-size="11" text-anchor="end" >60</text>
<text x="288.4" y="109.19999999999999" font-size="11" text-anchor="end" >50</text>
<text x="288.4" y="144.0" font-size="11" text-anchor="end" >40</text>
<text x="288.4" y="179.35" font-size="11" text-anchor="end" >30</text>
<text x="288.4" y="214.1" font-size="11" text-anchor="end" >20</text>
<text x="288.4" y="249.5" font-size="11" text-anchor="end" >10</text>
<text x="288.4" y="282.35" font-size="11" text-anchor="end" >0</text>
<text x="296.2" y="297.1" font-size="11" text-anchor="middle" >1</text>
<text x="323.7" y="297.1" font-size="11" text-anchor="middle" >50</text>
<text x="350.7" y="297.1" font-size="11" text-anchor="middle" >100</text>
<text x="375.25" y="297.1" font-size="11" text-anchor="middle" >150</text>
<text x="401.75" y="297.1" font-size="11" text-anchor="middle" >200</text>
<text x="426.05" y="297.1" font-size="11" text-anchor="middle" >250</text>
<text x="450.55" y="297.1" font-size="11" text-anchor="middle" >300</text>
<text x="474.75" y="297.1" font-size="11" text-anchor="middle" >350</text>
<text x="498.15" y="297.1" font-size="11" text-anchor="middle" >400</text>
<text x="522.95" y="297.1" font-size="11" text-anchor="middle" >450</text>
<text x="546.9000000000001" y="297.1" font-size="11" text-anchor="middle" >500</text>
<text x="571.15" y="297.1" font-size="11" text-anchor="middle" >550</text>
<text x="598.0" y="297.1" font-size="11" text-anchor="middle" >600</text>
<text x="625.15" y="297.1" font-size="11" text-anchor="middle" >650</text>
<text x="652.3499999999999" y="297.1" font-size="11" text-anchor="middle" >700</text>
<text x="676.45" y="297.1" font-size="11" text-anchor="middle" >750</text>
<text x="397" y="314.9" font-size="14" text-anchor="start" >Interval between collinear genes</text>
<text x="265.2" y="154.9" font-size="14" text-anchor="middle" transform="rotate(-90 265.2 154.9)">No. singletons</text>
<rect x="587.70" y="68.70" width="18.40" height="4.40" fill="#0070c0"/>
<rect x="588.40" y="82.90" width="18.60" height="4.20" fill="#ff0000"/>
<text transform="translate(615.5 74.3) scale(0.96 1)" font-size="14.6" text-anchor="start">Jr1D</text>
<text transform="translate(615.5 88.4) scale(0.96 1)" font-size="14.6" text-anchor="start">Jr1S</text>
<rect x="434.4" y="37.9" width="2.9" height="19" fill="#da2535"/>
<polygon points="426.3,55.9 445.4,55.9 435.8,74.6" fill="#da2535"/>
</svg>
</body></html>
